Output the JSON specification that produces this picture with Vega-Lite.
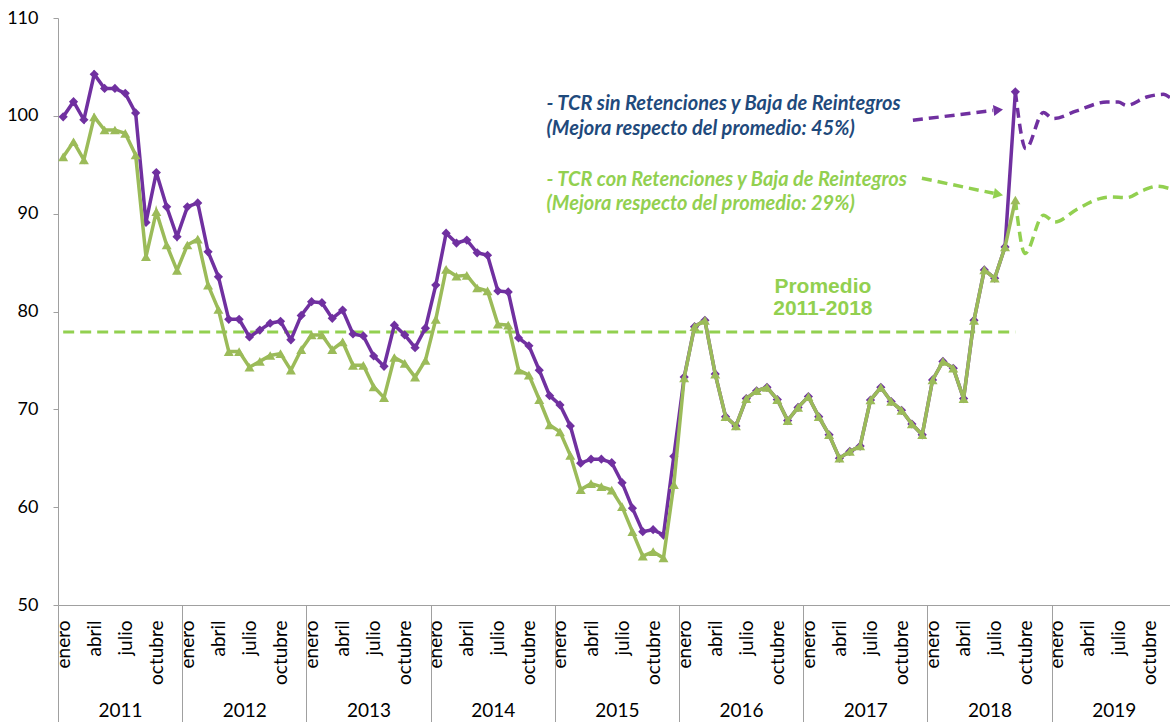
{
  "$schema": "https://vega.github.io/schema/vega-lite/v6.json",
  "width": 1112,
  "height": 587,
  "autosize": {"type": "none"},
  "padding": {"left": 58, "top": 18, "right": 0, "bottom": 117},
  "background": "white",
  "config": {"view": {"stroke": null}, "axis": {"grid": false, "labelFont": "Lato", "labelColor": "#000000", "domainColor": "#A0A0A0", "tickColor": "#A0A0A0"}},
  "datasets": {
    "sin": [
      {"t":0,"v":99.9},{"t":1,"v":101.45},{"t":2,"v":99.6},{"t":3,"v":104.25},{"t":4,"v":102.8},{"t":5,"v":102.8},{"t":6,"v":102.3},{"t":7,"v":100.3},{"t":8,"v":89.1},{"t":9,"v":94.2},{"t":10,"v":90.7},{"t":11,"v":87.65},
      {"t":12,"v":90.7},{"t":13,"v":91.1},{"t":14,"v":86.1},{"t":15,"v":83.55},{"t":16,"v":79.2},{"t":17,"v":79.2},{"t":18,"v":77.4},{"t":19,"v":78.1},{"t":20,"v":78.8},{"t":21,"v":79.0},{"t":22,"v":77.1},{"t":23,"v":79.6},
      {"t":24,"v":81.0},{"t":25,"v":80.9},{"t":26,"v":79.3},{"t":27,"v":80.15},{"t":28,"v":77.7},{"t":29,"v":77.5},{"t":30,"v":75.45},{"t":31,"v":74.4},{"t":32,"v":78.6},{"t":33,"v":77.6},{"t":34,"v":76.3},{"t":35,"v":78.3},
      {"t":36,"v":82.7},{"t":37,"v":88.0},{"t":38,"v":87.0},{"t":39,"v":87.3},{"t":40,"v":86.0},{"t":41,"v":85.75},{"t":42,"v":82.1},{"t":43,"v":82.0},{"t":44,"v":77.3},{"t":45,"v":76.5},{"t":46,"v":74.0},{"t":47,"v":71.4},
      {"t":48,"v":70.45},{"t":49,"v":68.3},{"t":50,"v":64.5},{"t":51,"v":64.9},{"t":52,"v":64.9},{"t":53,"v":64.55},{"t":54,"v":62.5},{"t":55,"v":59.9},{"t":56,"v":57.5},{"t":57,"v":57.7},{"t":58,"v":57.15},{"t":59,"v":65.2},
      {"t":60,"v":73.3},{"t":61,"v":78.45},{"t":62,"v":79.1},{"t":63,"v":73.6},{"t":64,"v":69.25},{"t":65,"v":68.3},{"t":66,"v":71.1},{"t":67,"v":71.9},{"t":68,"v":72.25},{"t":69,"v":71.0},{"t":70,"v":68.85},{"t":71,"v":70.2},
      {"t":72,"v":71.3},{"t":73,"v":69.25},{"t":74,"v":67.4},{"t":75,"v":65.0},{"t":76,"v":65.7},{"t":77,"v":66.25},{"t":78,"v":70.95},{"t":79,"v":72.25},{"t":80,"v":70.8},{"t":81,"v":69.9},{"t":82,"v":68.5},{"t":83,"v":67.4},
      {"t":84,"v":73.0},{"t":85,"v":74.9},{"t":86,"v":74.2},{"t":87,"v":71.1},{"t":88,"v":79.1},{"t":89,"v":84.25},{"t":90,"v":83.4},{"t":91,"v":86.6},{"t":92,"v":102.45}
    ],
    "con": [
      {"t":0,"v":95.8},{"t":1,"v":97.35},{"t":2,"v":95.5},{"t":3,"v":99.9},{"t":4,"v":98.55},{"t":5,"v":98.55},{"t":6,"v":98.2},{"t":7,"v":96.0},{"t":8,"v":85.6},{"t":9,"v":90.2},{"t":10,"v":86.8},{"t":11,"v":84.2},
      {"t":12,"v":86.8},{"t":13,"v":87.4},{"t":14,"v":82.7},{"t":15,"v":80.2},{"t":16,"v":75.9},{"t":17,"v":75.9},{"t":18,"v":74.3},{"t":19,"v":74.9},{"t":20,"v":75.5},{"t":21,"v":75.7},{"t":22,"v":74.0},{"t":23,"v":76.1},
      {"t":24,"v":77.6},{"t":25,"v":77.6},{"t":26,"v":76.1},{"t":27,"v":76.9},{"t":28,"v":74.5},{"t":29,"v":74.5},{"t":30,"v":72.3},{"t":31,"v":71.2},{"t":32,"v":75.3},{"t":33,"v":74.7},{"t":34,"v":73.3},{"t":35,"v":75.0},
      {"t":36,"v":79.2},{"t":37,"v":84.3},{"t":38,"v":83.6},{"t":39,"v":83.7},{"t":40,"v":82.4},{"t":41,"v":82.1},{"t":42,"v":78.7},{"t":43,"v":78.6},{"t":44,"v":74.0},{"t":45,"v":73.5},{"t":46,"v":71.0},{"t":47,"v":68.4},
      {"t":48,"v":67.7},{"t":49,"v":65.3},{"t":50,"v":61.8},{"t":51,"v":62.4},{"t":52,"v":62.1},{"t":53,"v":61.75},{"t":54,"v":60.05},{"t":55,"v":57.5},{"t":56,"v":55.0},{"t":57,"v":55.45},{"t":58,"v":54.8},{"t":59,"v":62.3},
      {"t":60,"v":73.2},{"t":61,"v":78.45},{"t":62,"v":79.1},{"t":63,"v":73.6},{"t":64,"v":69.25},{"t":65,"v":68.3},{"t":66,"v":71.1},{"t":67,"v":71.9},{"t":68,"v":72.25},{"t":69,"v":71.0},{"t":70,"v":68.85},{"t":71,"v":70.2},
      {"t":72,"v":71.3},{"t":73,"v":69.25},{"t":74,"v":67.4},{"t":75,"v":65.0},{"t":76,"v":65.7},{"t":77,"v":66.25},{"t":78,"v":70.95},{"t":79,"v":72.25},{"t":80,"v":70.8},{"t":81,"v":69.9},{"t":82,"v":68.5},{"t":83,"v":67.4},
      {"t":84,"v":73.0},{"t":85,"v":74.9},{"t":86,"v":74.2},{"t":87,"v":71.1},{"t":88,"v":79.1},{"t":89,"v":84.25},{"t":90,"v":83.4},{"t":91,"v":86.6},{"t":92,"v":91.4}
    ],
    "projSin": [
      {"t":92,"v":102.45},{"t":93.02,"v":96.65},{"t":94.7,"v":100.33},{"t":95.66,"v":99.72},{"t":97.92,"v":100.5},{"t":100.82,"v":101.41},{"t":101.94,"v":101.41},{"t":102.75,"v":101.07},{"t":104.69,"v":101.92},{"t":106.29,"v":102.2},{"t":106.94,"v":101.86}
    ],
    "projCon": [
      {"t":92,"v":91.4},{"t":92.93,"v":85.93},{"t":94.7,"v":89.84},{"t":95.83,"v":89.15},{"t":97.92,"v":90.42},{"t":100.17,"v":91.54},{"t":101.14,"v":91.7},{"t":102.75,"v":91.64},{"t":104.36,"v":92.39},{"t":105.65,"v":92.8},{"t":106.94,"v":92.56}
    ],
    "avg": [{"t":0,"t2":92,"v":77.9}],
    "txtSin": [
      {"t":46.7,"v":101.25,"txt":"- TCR sin Retenciones y Baja de Reintegros"},
      {"t":46.7,"v":98.7,"txt":"(Mejora respecto del promedio: 45%)"}
    ],
    "txtCon": [
      {"t":46.7,"v":93.4,"txt":"- TCR con Retenciones y Baja de Reintegros"},
      {"t":46.7,"v":91.03,"txt":"(Mejora respecto del promedio: 29%)"}
    ],
    "txtProm": [
      {"t":73.4,"v":82.48,"txt":"Promedio"},
      {"t":73.4,"v":80.24,"txt":"2011-2018"}
    ],
    "arrowSin": [{"t":82.1,"v":99.54},{"t":89.84,"v":100.56}],
    "arrowCon": [{"t":82.97,"v":93.62},{"t":89.9,"v":92.08}],
    "headSin": [{"t":90.35,"v":100.6}],
    "headCon": [{"t":90.36,"v":91.98}]
  },
  "layer": [
    {
      "data": {"name": "avg"},
      "mark": {"type": "rule", "color": "#92D050", "strokeWidth": 3, "strokeDash": [11, 6]},
      "encoding": {
        "x": {"field": "t", "type": "quantitative", "scale": {"domain": [-0.5, 106.94], "nice": false, "zero": false},
          "axis": {"orient": "bottom", "values": [5.5, 17.5, 29.5, 41.5, 53.5, 65.5, 77.5, 89.5, 101.5], "labelExpr": "'' + (2011 + floor(datum.value / 12))", "ticks": false, "tickSize": 0, "domain": false, "labelPadding": 96, "labelBaseline": "top", "labelAngle": 0, "labelAlign": "center", "labelFontSize": 19, "labelFlush": false, "labelOverlap": false, "labelBound": false, "grid": false, "title": null}},
        "x2": {"field": "t2"},
        "y": {"field": "v", "type": "quantitative", "scale": {"domain": [50, 110], "nice": false, "zero": false}, "axis": null}
      }
    },
    {
      "data": {"name": "projSin"},
      "mark": {"type": "line", "color": "#7030A0", "strokeWidth": 3.5, "strokeDash": [10, 6], "interpolate": "monotone", "clip": true},
      "encoding": {
        "x": {"field": "t", "type": "quantitative", "scale": {"domain": [-0.5, 106.94], "nice": false, "zero": false},
          "axis": {"orient": "bottom", "values": [-0.5, 11.5, 23.5, 35.5, 47.5, 59.5, 71.5, 83.5, 95.5], "labels": false, "ticks": true, "tickSize": 117, "tickWidth": 1, "tickColor": "#A0A0A0", "domain": false, "grid": false, "title": null}},
        "y": {"field": "v", "type": "quantitative", "scale": {"domain": [50, 110], "nice": false, "zero": false}, "axis": null}
      }
    },
    {
      "data": {"name": "projCon"},
      "mark": {"type": "line", "color": "#92D050", "strokeWidth": 3.5, "strokeDash": [10, 6], "interpolate": "monotone", "clip": true},
      "encoding": {
        "x": {"field": "t", "type": "quantitative", "scale": {"domain": [-0.5, 106.94], "nice": false, "zero": false}, "axis": null},
        "y": {"field": "v", "type": "quantitative", "scale": {"domain": [50, 110], "nice": false, "zero": false}, "axis": null}
      }
    },
    {
      "data": {"name": "sin"},
      "mark": {"type": "line", "color": "#7030A0", "strokeWidth": 3.5},
      "encoding": {
        "x": {"field": "t", "type": "quantitative", "scale": {"domain": [-0.5, 106.94], "nice": false, "zero": false},
          "axis": {"orient": "bottom", "values": [0,3,6,9,12,15,18,21,24,27,30,33,36,39,42,45,48,51,54,57,60,63,66,69,72,75,78,81,84,87,90,93,96,99,102,105], "labelExpr": "['enero','abril','julio','octubre'][floor((datum.value % 12) / 3)]", "labelAngle": -90, "labelAlign": "right", "labelBaseline": "middle", "ticks": false, "tickSize": 0, "labelPadding": 15, "labelFontSize": 19, "labelOverlap": false, "labelFlush": false, "labelBound": false, "domain": true, "domainColor": "#A0A0A0", "domainWidth": 1, "grid": false, "title": null}},
        "y": {"field": "v", "type": "quantitative", "scale": {"domain": [50, 110], "nice": false, "zero": false},
          "axis": {"orient": "left", "values": [50, 60, 70, 80, 90, 100, 110], "tickSize": 5, "labelPadding": 15, "labelFontSize": 18, "labelFlush": false, "domainColor": "#A0A0A0", "tickColor": "#A0A0A0", "grid": false, "title": null}}
      }
    },
    {
      "data": {"name": "sin"},
      "mark": {"type": "point", "shape": "diamond", "filled": true, "size": 85, "color": "#7030A0", "opacity": 1},
      "encoding": {
        "x": {"field": "t", "type": "quantitative", "scale": {"domain": [-0.5, 106.94], "nice": false, "zero": false}, "axis": null},
        "y": {"field": "v", "type": "quantitative", "scale": {"domain": [50, 110], "nice": false, "zero": false}, "axis": null}
      }
    },
    {
      "data": {"name": "con"},
      "mark": {"type": "line", "color": "#9BBB59", "strokeWidth": 3.5},
      "encoding": {
        "x": {"field": "t", "type": "quantitative", "scale": {"domain": [-0.5, 106.94], "nice": false, "zero": false}, "axis": null},
        "y": {"field": "v", "type": "quantitative", "scale": {"domain": [50, 110], "nice": false, "zero": false}, "axis": null}
      }
    },
    {
      "data": {"name": "con"},
      "mark": {"type": "point", "shape": "triangle-up", "filled": true, "size": 100, "color": "#9BBB59", "opacity": 1},
      "encoding": {
        "x": {"field": "t", "type": "quantitative", "scale": {"domain": [-0.5, 106.94], "nice": false, "zero": false}, "axis": null},
        "y": {"field": "v", "type": "quantitative", "scale": {"domain": [50, 110], "nice": false, "zero": false}, "axis": null}
      }
    },
    {
      "data": {"name": "arrowSin"},
      "mark": {"type": "line", "color": "#7030A0", "strokeWidth": 3.5, "strokeDash": [10, 6]},
      "encoding": {
        "x": {"field": "t", "type": "quantitative", "scale": {"domain": [-0.5, 106.94], "nice": false, "zero": false}, "axis": null},
        "y": {"field": "v", "type": "quantitative", "scale": {"domain": [50, 110], "nice": false, "zero": false}, "axis": null}
      }
    },
    {
      "data": {"name": "arrowCon"},
      "mark": {"type": "line", "color": "#92D050", "strokeWidth": 3.5, "strokeDash": [10, 6]},
      "encoding": {
        "x": {"field": "t", "type": "quantitative", "scale": {"domain": [-0.5, 106.94], "nice": false, "zero": false}, "axis": null},
        "y": {"field": "v", "type": "quantitative", "scale": {"domain": [50, 110], "nice": false, "zero": false}, "axis": null}
      }
    },
    {
      "data": {"name": "headSin"},
      "mark": {"type": "point", "shape": "triangle-right", "filled": true, "size": 120, "angle": -7, "color": "#7030A0", "opacity": 1},
      "encoding": {
        "x": {"field": "t", "type": "quantitative", "scale": {"domain": [-0.5, 106.94], "nice": false, "zero": false}, "axis": null},
        "y": {"field": "v", "type": "quantitative", "scale": {"domain": [50, 110], "nice": false, "zero": false}, "axis": null}
      }
    },
    {
      "data": {"name": "headCon"},
      "mark": {"type": "point", "shape": "triangle-right", "filled": true, "size": 120, "angle": 12, "color": "#92D050", "opacity": 1},
      "encoding": {
        "x": {"field": "t", "type": "quantitative", "scale": {"domain": [-0.5, 106.94], "nice": false, "zero": false}, "axis": null},
        "y": {"field": "v", "type": "quantitative", "scale": {"domain": [50, 110], "nice": false, "zero": false}, "axis": null}
      }
    },
    {
      "data": {"name": "txtSin"},
      "mark": {"type": "text", "align": "left", "baseline": "middle", "font": "Lato", "fontStyle": "italic", "fontWeight": "bold", "fontSize": 20, "color": "#1F4A7C"},
      "encoding": {
        "x": {"field": "t", "type": "quantitative", "scale": {"domain": [-0.5, 106.94], "nice": false, "zero": false}, "axis": null},
        "y": {"field": "v", "type": "quantitative", "scale": {"domain": [50, 110], "nice": false, "zero": false}, "axis": null},
        "text": {"field": "txt"}
      }
    },
    {
      "data": {"name": "txtCon"},
      "mark": {"type": "text", "align": "left", "baseline": "middle", "font": "Lato", "fontStyle": "italic", "fontWeight": "bold", "fontSize": 20, "color": "#92D050"},
      "encoding": {
        "x": {"field": "t", "type": "quantitative", "scale": {"domain": [-0.5, 106.94], "nice": false, "zero": false}, "axis": null},
        "y": {"field": "v", "type": "quantitative", "scale": {"domain": [50, 110], "nice": false, "zero": false}, "axis": null},
        "text": {"field": "txt"}
      }
    },
    {
      "data": {"name": "txtProm"},
      "mark": {"type": "text", "align": "center", "baseline": "middle", "font": "Liberation Sans", "fontWeight": "bold", "fontSize": 21, "color": "#92D050"},
      "encoding": {
        "x": {"field": "t", "type": "quantitative", "scale": {"domain": [-0.5, 106.94], "nice": false, "zero": false}, "axis": null},
        "y": {"field": "v", "type": "quantitative", "scale": {"domain": [50, 110], "nice": false, "zero": false}, "axis": null},
        "text": {"field": "txt"}
      }
    }
  ],
  "resolve": {"axis": {"x": "independent", "y": "independent"}}
}
